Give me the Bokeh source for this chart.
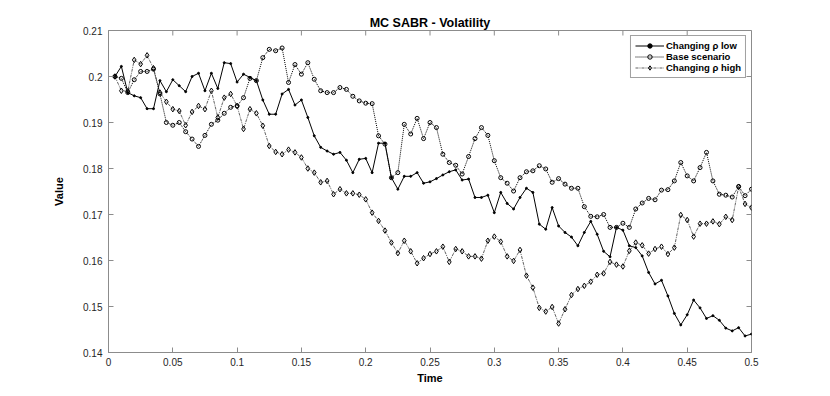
import numpy as np
from bokeh.plotting import figure
from bokeh.models import (FixedTicker, CustomJSTickFormatter, Range1d,
                          Legend, LegendItem)
from bokeh.embed import file_html
from bokeh.resources import INLINE

# ---------------- data ----------------
dt = 0.005
n_steps = 100
time = [round(dt * (i + 1), 3) for i in range(n_steps)]

rho_low = [
    0.2000, 0.2022, 0.1965, 0.1958, 0.1954, 0.1930, 0.1930, 0.1991, 0.1967, 0.1993,
    0.1980, 0.1967, 0.2000, 0.2007, 0.1969, 0.2007, 0.1974, 0.2030, 0.2028, 0.1988,
    0.2005, 0.1998, 0.1991, 0.1949, 0.1918, 0.1918, 0.1962, 0.1972, 0.1938, 0.1949,
    0.1911, 0.1871, 0.1846, 0.1838, 0.1831, 0.1835, 0.1818, 0.1791, 0.1820, 0.1822,
    0.1791, 0.1855, 0.1855, 0.1780, 0.1755, 0.1783, 0.1783, 0.1791, 0.1768, 0.1771,
    0.1778, 0.1786, 0.1793, 0.1797, 0.1775, 0.1777, 0.1737, 0.1737, 0.1742, 0.1704,
    0.1748, 0.1724, 0.1712, 0.1737, 0.1757, 0.1748, 0.1679, 0.1668, 0.1715, 0.1675,
    0.1661, 0.1651, 0.1632, 0.1661, 0.1685, 0.1657, 0.1620, 0.1608, 0.1672, 0.1666,
    0.1632, 0.1628, 0.1610, 0.1574, 0.1549, 0.1557, 0.1523, 0.1485, 0.1460, 0.1482,
    0.1514, 0.1497, 0.1474, 0.1480, 0.1470, 0.1453, 0.1447, 0.1454, 0.1436, 0.1440]

base = [
    0.2000, 0.1996, 0.1965, 0.1993, 0.2011, 0.2011, 0.2016, 0.1962, 0.1900, 0.1894,
    0.1900, 0.1880, 0.1864, 0.1848, 0.1872, 0.1896, 0.1905, 0.1920, 0.1933, 0.1936,
    0.1954, 0.1996, 0.1991, 0.2041, 0.2059, 0.2056, 0.2062, 0.1987, 0.2026, 0.2005,
    0.2030, 0.1994, 0.1969, 0.1965, 0.1965, 0.1976, 0.1972, 0.1957, 0.1947, 0.1942,
    0.1941, 0.1871, 0.1853, 0.1780, 0.1791, 0.1896, 0.1875, 0.1909, 0.1865, 0.1900,
    0.1889, 0.1831, 0.1813, 0.1807, 0.1788, 0.1826, 0.1865, 0.1889, 0.1872, 0.1817,
    0.1780, 0.1768, 0.1751, 0.1780, 0.1793, 0.1795, 0.1806, 0.1799, 0.1770, 0.1778,
    0.1766, 0.1757, 0.1757, 0.1717, 0.1696, 0.1695, 0.1700, 0.1672, 0.1672, 0.1681,
    0.1672, 0.1712, 0.1725, 0.1735, 0.1732, 0.1753, 0.1754, 0.1773, 0.1813, 0.1784,
    0.1773, 0.1802, 0.1835, 0.1773, 0.1744, 0.1742, 0.1738, 0.1761, 0.1741, 0.1755]

rho_high = [
    0.2000, 0.1969, 0.1968, 0.2036, 0.2027, 0.2046, 0.2018, 0.1965, 0.1945, 0.1929,
    0.1925, 0.1894, 0.1923, 0.1936, 0.1929, 0.1969, 0.1911, 0.1954, 0.1962, 0.1936,
    0.1886, 0.1929, 0.1920, 0.1893, 0.1849, 0.1836, 0.1831, 0.1841, 0.1835, 0.1824,
    0.1800, 0.1791, 0.1770, 0.1773, 0.1744, 0.1755, 0.1746, 0.1746, 0.1743, 0.1733,
    0.1704, 0.1686, 0.1665, 0.1639, 0.1616, 0.1643, 0.1620, 0.1594, 0.1605, 0.1614,
    0.1620, 0.1630, 0.1597, 0.1625, 0.1620, 0.1609, 0.1609, 0.1604, 0.1643, 0.1652,
    0.1641, 0.1609, 0.1599, 0.1623, 0.1567, 0.1541, 0.1497, 0.1489, 0.1499, 0.1463,
    0.1494, 0.1525, 0.1538, 0.1545, 0.1554, 0.1569, 0.1572, 0.1597, 0.1591, 0.1587,
    0.1621, 0.1639, 0.1633, 0.1615, 0.1625, 0.1630, 0.1614, 0.1628, 0.1699, 0.1688,
    0.1652, 0.1680, 0.1680, 0.1685, 0.1679, 0.1695, 0.1688, 0.1760, 0.1723, 0.1715]

x_ticks = [0, 0.05, 0.1, 0.15, 0.2, 0.25, 0.3, 0.35, 0.4, 0.45, 0.5]
y_ticks = [0.14, 0.15, 0.16, 0.17, 0.18, 0.19, 0.2, 0.21]

labels = ["Changing \u03c1 low", "Base scenario", "Changing \u03c1 high"]
title_text = "MC SABR - Volatility"

# ---------------- figure ----------------
FONT = "Liberation Sans"
AX = "#262626"
BOX = "#8c8c8c"
FW, FH = 643, 322
X0, X1 = 0, 0.5
Y0, Y1 = 0.14, 0.21

p = figure(frame_width=FW, frame_height=FH,
           x_range=Range1d(X0, X1), y_range=Range1d(Y0, Y1),
           output_backend="svg", toolbar_location=None,
           min_border_left=108, min_border_right=60,
           min_border_top=30, min_border_bottom=40,
           x_axis_label="Time", y_axis_label="Value")
p.background_fill_color = "white"
p.border_fill_color = "white"
p.outline_line_color = BOX
p.grid.visible = False

p.title.text = title_text
p.title.align = "center"
p.title.text_font = FONT
p.title.text_font_size = "12.5px"
p.title.text_font_style = "bold"
p.title.text_color = "black"
p.title.standoff = 2

fmt = CustomJSTickFormatter(code="return parseFloat(tick.toFixed(3)).toString();")

for ax, ticks in ((p.xaxis[0], x_ticks), (p.yaxis[0], y_ticks)):
    ax.ticker = FixedTicker(ticks=ticks)
    ax.formatter = fmt
    ax.major_tick_in = 5
    ax.major_tick_out = 0
    ax.minor_tick_line_color = None
    ax.axis_line_color = BOX
    ax.major_tick_line_color = BOX
    ax.major_label_text_font = FONT
    ax.major_label_text_font_size = "10px"
    ax.major_label_text_color = AX
    ax.axis_label_text_font = FONT
    ax.axis_label_text_font_size = "11px"
    ax.axis_label_text_font_style = "bold"
    ax.axis_label_text_color = "black"

p.xaxis[0].major_label_standoff = 5
p.xaxis[0].axis_label_standoff = 3
p.yaxis[0].major_label_standoff = 6
p.yaxis[0].axis_label_standoff = 15

# inward ticks on the top and right edges of the box (MATLAB "box on")
tick_px = 5
dy = tick_px * (Y1 - Y0) / FH
dx = tick_px * (X1 - X0) / FW
p.segment(x0=x_ticks, y0=[Y1] * len(x_ticks), x1=x_ticks, y1=[Y1 - dy] * len(x_ticks),
          line_color=BOX, line_width=1)
p.segment(x0=[X1] * len(y_ticks), y0=y_ticks, x1=[X1 - dx] * len(y_ticks), y1=y_ticks,
          line_color=BOX, line_width=1)

# ---------------- series ----------------
l1 = p.line(time, rho_low, line_color="black", line_width=1)
m1 = p.scatter(time, rho_low, marker="circle", size=2, line_color="black", fill_color="black")

l2 = p.line(time, base, line_color="black", line_width=1, line_dash="1 1")
m2 = p.scatter(time, base, marker="circle", size=4, line_color="black", line_width=1,
               fill_color=None)

l3 = p.line(time, rho_high, line_color="#3a3a3a", line_width=0.8, line_dash="3 1 1 1")
m3 = p.scatter(time, rho_high, marker="diamond", size=5.5, line_color="black", line_width=1,
               fill_color=None)

legend = Legend(items=[LegendItem(label=labels[0], renderers=[l1, m1]),
                       LegendItem(label=labels[1], renderers=[l2, m2]),
                       LegendItem(label=labels[2], renderers=[l3, m3])],
                location="top_right")
legend.margin = 5
legend.padding = 4
legend.spacing = 0
legend.glyph_width = 29
legend.glyph_height = 11
legend.label_height = 11
legend.label_standoff = 2
legend.label_text_font = FONT
legend.label_text_font_size = "9.5px"
legend.label_text_font_style = "bold"
legend.label_text_color = "black"
legend.border_line_color = "#444444"
legend.border_line_width = 1
legend.background_fill_color = "white"
legend.background_fill_alpha = 1
p.add_layout(legend)

open("out.html", "w").write(file_html(p, INLINE))
